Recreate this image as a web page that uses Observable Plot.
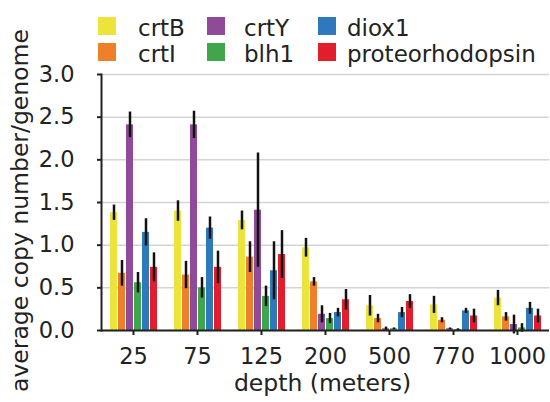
<!DOCTYPE html>
<html><head><meta charset="utf-8">
<script src="https://cdn.jsdelivr.net/npm/d3@7"></script>
<script src="https://cdn.jsdelivr.net/npm/@observablehq/plot@0.6"></script>
<style>
html,body{margin:0;padding:0;background:#fff;}
body{font-family:"DejaVu Sans";color:#222;width:550px;}
#legend{position:relative;width:550px;height:64px;}
.sw{position:absolute;width:18px;height:18px;}
.lb{position:absolute;font-size:23px;line-height:23px;white-space:nowrap;color:#222;}
#chart svg{overflow:visible;display:block;}
</style></head><body>
<div id="legend"></div><div id="chart"></div>
<script>
// ---- data ----
const depths = ["25", "75", "125", "200", "500", "770", "1000"];
const genes = ["crtB", "crtI", "crtY", "blh1", "diox1", "proteorhodopsin"];
const crtB = [1.38, 1.40, 1.29, 0.97, 0.29, 0.30, 0.38];
const crtBErr = [0.09, 0.12, 0.11, 0.11, 0.12, 0.10, 0.09];
const crtI = [0.67, 0.65, 0.86, 0.57, 0.14, 0.12, 0.16];
const crtIErr = [0.15, 0.16, 0.18, 0.05, 0.05, 0.03, 0.05];
const crtY = [2.41, 2.41, 1.41, 0.19, 0.02, 0.02, 0.07];
const crtYErr = [0.15, 0.16, 0.67, 0.10, 0.02, 0.01, 0.11];
const blh1 = [0.56, 0.50, 0.40, 0.14, 0.02, 0.01, 0.03];
const blh1Err = [0.12, 0.12, 0.12, 0.06, 0.01, 0.01, 0.05];
const diox1 = [1.15, 1.20, 0.70, 0.21, 0.21, 0.23, 0.26];
const diox1Err = [0.16, 0.13, 0.34, 0.05, 0.06, 0.03, 0.07];
const proteorhodopsin = [0.74, 0.74, 0.89, 0.36, 0.34, 0.17, 0.17];
const proteorhodopsinErr = [0.17, 0.19, 0.28, 0.12, 0.08, 0.08, 0.08];
const yTicks = [0, 0.5, 1.0, 1.5, 2.0, 2.5, 3.0];
const xLabel = "depth (meters)";
const yLabel = "average copy number/genome";

// ---- styles ----
const colors = ["#ece43a", "#f07f2b", "#8f4b98", "#40a64b", "#2d79bb", "#e31e2c"];

const values = [crtB, crtI, crtY, blh1, diox1, proteorhodopsin];
const errors = [crtBErr, crtIErr, crtYErr, blh1Err, diox1Err, proteorhodopsinErr];
const data = [];
depths.forEach((d, j) => genes.forEach((g, i) => data.push({depth: d, gene: g, value: values[i][j], err: errors[i][j]})));

// ---- legend (HTML, above the plot) ----
const legend = document.getElementById("legend");
const swLeft = [98, 207, 318], txLeft = [138, 244, 347], rowTop = [17, 43];
genes.forEach((g, i) => {
  const c = Math.floor(i / 2), r = i % 2;
  const sw = document.createElement("div");
  sw.className = "sw"; sw.style.left = swLeft[c] + "px"; sw.style.top = rowTop[r] + "px"; sw.style.background = colors[i];
  const lb = document.createElement("div");
  lb.className = "lb"; lb.style.left = txLeft[c] + "px"; lb.style.top = rowTop[r] + "px"; lb.textContent = g;
  legend.appendChild(sw); legend.appendChild(lb);
});

// ---- plot ----
const chart = Plot.plot({
  width: 550, height: 338,
  marginTop: 10, marginBottom: 72, marginLeft: 100, marginRight: 0,
  style: {fontFamily: "DejaVu Sans", fontSize: "22.5px", color: "#222", overflow: "visible", background: "transparent"},
  fx: {domain: depths, padding: 0, label: null},
  x: {domain: genes, paddingInner: 0.145, paddingOuter: 0.836, axis: null},
  y: {domain: [0, 3], label: null},
  color: {domain: genes, range: colors},
  marks: [
    Plot.ruleY(yTicks, {stroke: "#d4d4d4", strokeWidth: 1.5}),
    Plot.barY(data, {fx: "depth", x: "gene", y: "value", fill: "gene"}),
    Plot.ruleX(data, {fx: "depth", x: "gene", y1: d => d.value - d.err, y2: d => d.value + d.err, stroke: "#111", strokeWidth: 2.5}),
    Plot.ruleY([0], {stroke: "#222", strokeWidth: 2}),
    Plot.axisY({ticks: yTicks, tickFormat: d3.format(".1f"), tickSize: 4, tickPadding: 23, strokeWidth: 2, label: null}),
    Plot.frame({anchor: "left", facetAnchor: "left", strokeWidth: 2}),
    Plot.axisFx({anchor: "bottom", tickSize: 5, tickPadding: 13, strokeWidth: 2, label: null}),
    Plot.text([yLabel], {fx: [depths[0]], frameAnchor: "left", textAnchor: "middle", rotate: -90, dx: -81, dy: 8, fontSize: 23.5, fill: "#222"}),
    Plot.text([xLabel], {fx: [depths[3]], frameAnchor: "bottom", textAnchor: "middle", dx: -3, dy: 60, fontSize: 23.5, fill: "#222"})
  ]
});
document.getElementById("chart").appendChild(chart);
</script>
</body></html>
